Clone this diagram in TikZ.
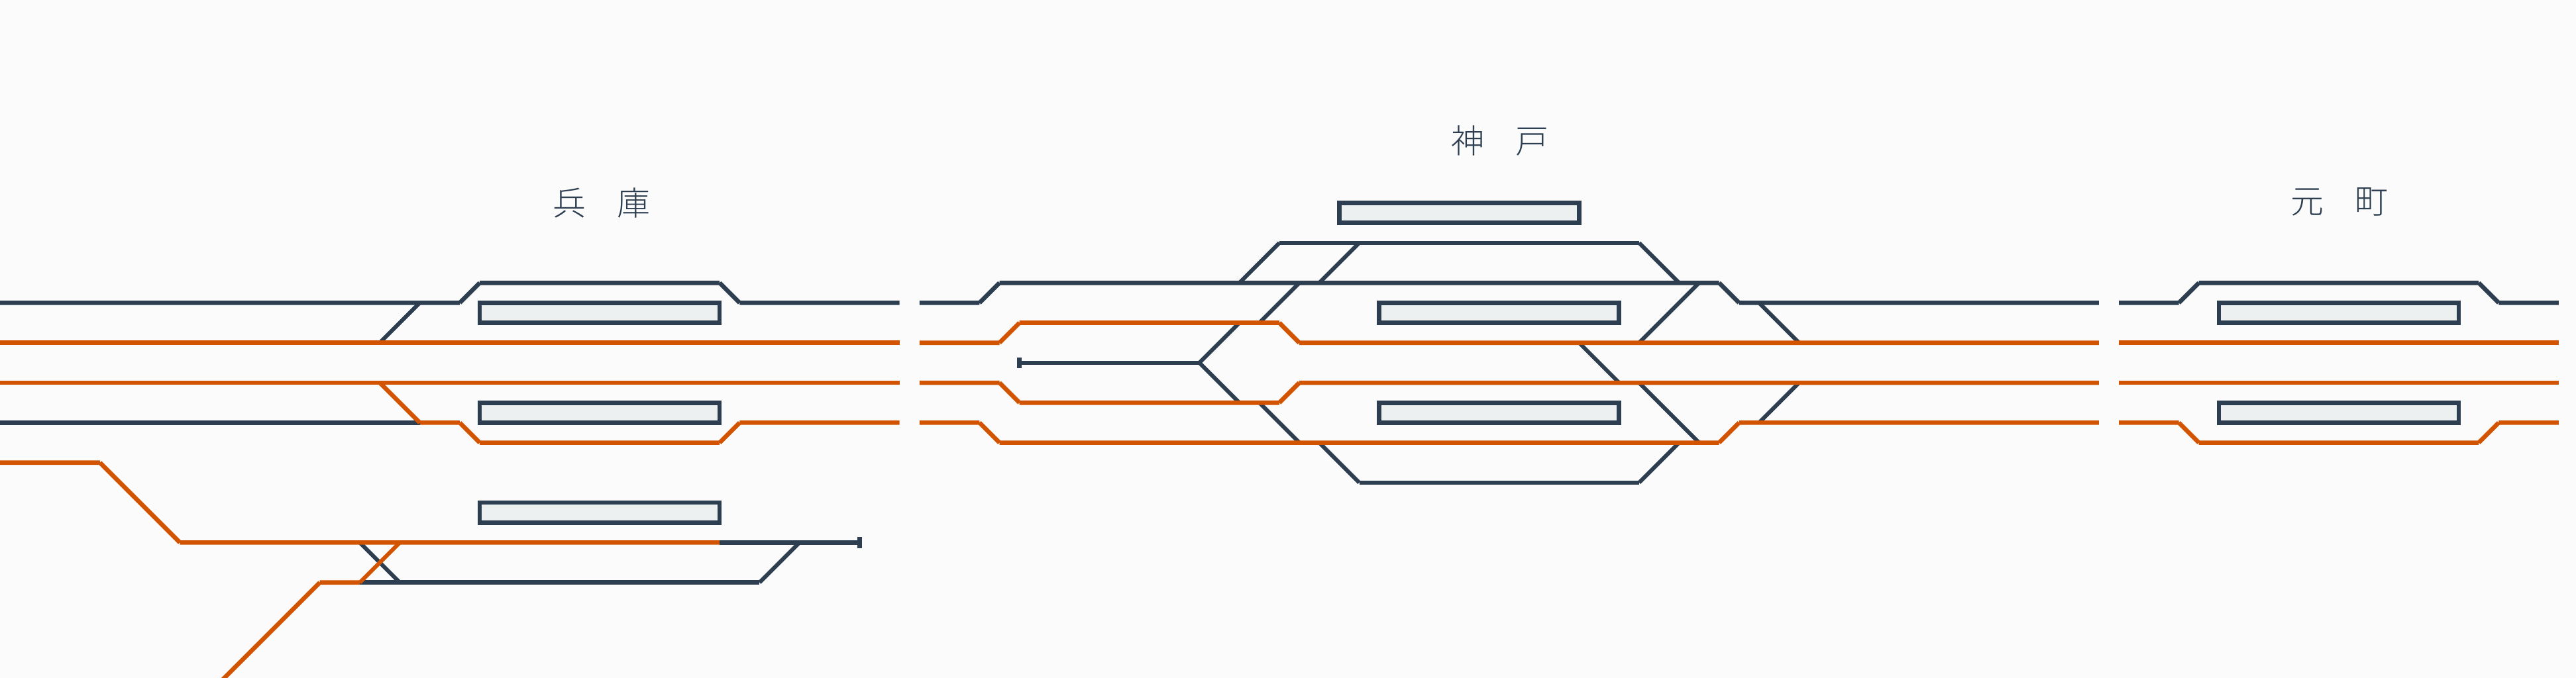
\documentclass[tikz,border=0pt]{standalone}
\usepackage{fontspec}
\newfontfamily\jpfont{Noto Sans CJK JP Light}
\definecolor{navy}{HTML}{2C3E50}
\definecolor{rust}{HTML}{D35400}
\definecolor{platfill}{HTML}{ECF0F1}
\definecolor{paper}{HTML}{FBFBFB}
\tikzset{
  navytrack/.style={draw=navy,line width=3.3pt,line cap=butt},
  rusttrack/.style={draw=rust,line width=3.3pt,line cap=butt},
  navylink/.style={draw=navy,line width=3pt,line cap=butt},
  rustlink/.style={draw=rust,line width=3pt,line cap=butt},
  platform/.style={draw=navy,fill=platfill,line width=3.3pt,rectangle,inner sep=0pt,
    minimum width=181.02pt,minimum height=15.085pt},
  stoplabel/.style={text=navy,font=\jpfont\fontsize{25pt}{25pt}\selectfont,inner sep=0pt},
  endbar/.style={draw=navy,line width=3.3pt}
}
\begin{document}
\begin{tikzpicture}[x=15.085pt,y=-15.085pt]
\path[use as bounding box,fill=paper] (0,-15.16) rectangle (128.87,18.78);
% --- connectors below the running lines ---
\path[navylink] (21,0)--(19,2);
\path[navylink] (18,12)--(20,14);
\path[navylink] (38,14)--(40,12);
\path[navylink] (60,3)--(62,1);
\path[navylink] (63,1)--(65,-1);
\path[navylink] (60,3)--(62,5);
\path[navylink] (63,5)--(65,7);
\path[navylink] (66,7)--(68,9);
\path[navylink] (62,-1)--(64,-3);
\path[navylink] (66,-1)--(68,-3);
\path[navylink] (82,-3)--(84,-1);
\path[navylink] (82,9)--(84,7);
\path[navylink] (82,2)--(85,-1);
\path[navylink] (82,4)--(85,7);
\path[navylink] (79,2)--(81,4);
\path[navylink] (88,0)--(90,2);
\path[navylink] (90,4)--(88,6);
% --- Hyogo ---
\path[navytrack] (0,0)--(23,0) (23,0)--(24,-1) (24,-1)--(36,-1) (36,-1)--(37,0) (37,0)--(45,0);
\path[rusttrack] (0,2)--(45,2);
\path[rusttrack] (0,4)--(45,4);
\path[navytrack] (0,6)--(21,6);
\path[rusttrack] (19,4)--(21,6) (21,6)--(23,6) (23,6)--(24,7) (24,7)--(36,7) (36,7)--(37,6) (37,6)--(45,6);
\path[navytrack] (36,12)--(43,12);
\path[navytrack] (18,14)--(38,14);
\path[rusttrack] (0,8)--(5,8) (5,8)--(9,12) (9,12)--(36,12);
\path[rusttrack] (11,19)--(16,14) (16,14)--(18,14);
\path[rustlink] (18,14)--(20,12);
\path[endbar] (43,11.73)--(43,12.27);
% --- Kobe ---
\path[navytrack] (46,0)--(49,0) (49,0)--(50,-1) (50,-1)--(86,-1) (86,-1)--(87,0) (87,0)--(105,0);
\path[navytrack] (64,-3)--(82,-3);
\path[navytrack] (68,9)--(82,9);
\path[navytrack] (51,3)--(60,3);
\path[endbar] (51,2.73)--(51,3.27);
\path[rusttrack] (46,2)--(50,2) (50,2)--(51,1) (51,1)--(64,1) (64,1)--(65,2) (65,2)--(105,2);
\path[rusttrack] (46,4)--(50,4) (50,4)--(51,5) (51,5)--(64,5) (64,5)--(65,4) (65,4)--(105,4);
\path[rusttrack] (46,6)--(49,6) (49,6)--(50,7) (50,7)--(86,7) (86,7)--(87,6) (87,6)--(105,6);
% --- Motomachi ---
\path[navytrack] (106,0)--(109,0) (109,0)--(110,-1) (110,-1)--(124,-1) (124,-1)--(125,0) (125,0)--(128,0);
\path[rusttrack] (106,2)--(128,2);
\path[rusttrack] (106,4)--(128,4);
\path[rusttrack] (106,6)--(109,6) (109,6)--(110,7) (110,7)--(124,7) (124,7)--(125,6) (125,6)--(128,6);
% --- platforms ---
\node[platform] (hyogoA) at (30,0.5) {};
\node[platform] (hyogoB) at (30,5.5) {};
\node[platform] (hyogoC) at (30,10.5) {};
\node[platform] (kobeA) at (73,-4.5) {};
\node[platform] (kobeB) at (75,0.5) {};
\node[platform] (kobeC) at (75,5.5) {};
\node[platform] (motoA) at (117,0.5) {};
\node[platform] (motoB) at (117,5.5) {};
% --- station names ---
\node[stoplabel] (hyogo) at (30.1,-5) {兵\hspace{23.5pt}庫};
\node[stoplabel] (kobe) at (75.05,-8.1) {神\hspace{23.5pt}戸};
\node[stoplabel] (moto) at (117.05,-5.05) {元\hspace{23.5pt}町};
\end{tikzpicture}
\end{document}
